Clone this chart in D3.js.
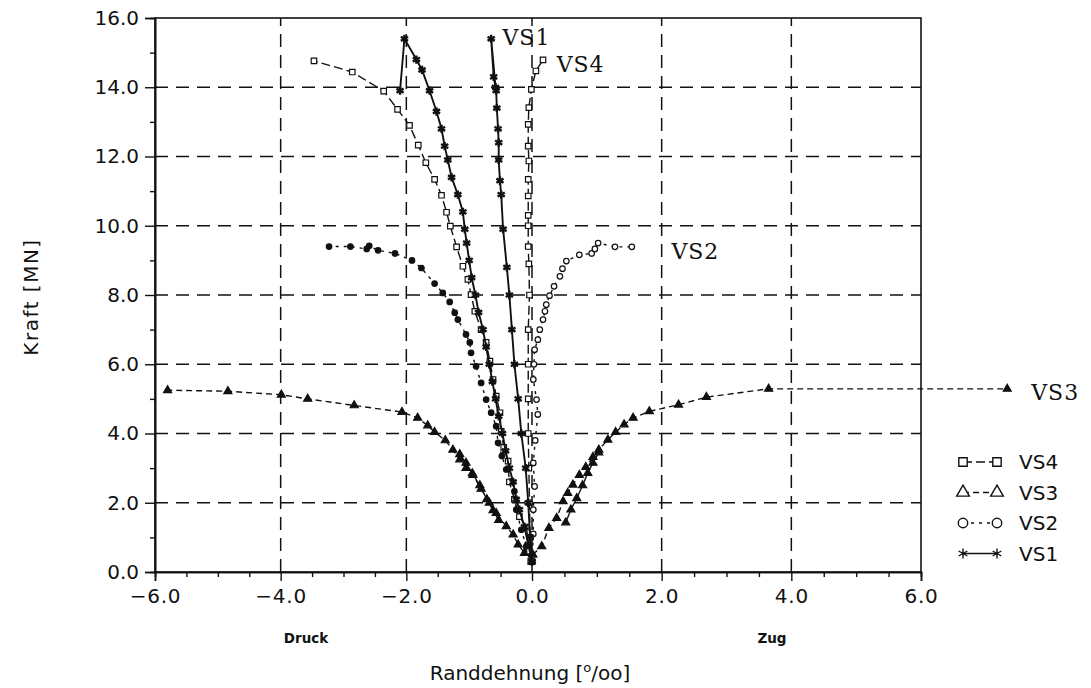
<!DOCTYPE html>
<html>
<head>
<meta charset="utf-8">
<script src="https://cdn.jsdelivr.net/npm/d3@7/dist/d3.min.js"></script>
<style>
  html, body { margin: 0; padding: 0; background: #fff; }
  svg { display: block; }
</style>
</head>
<body>
<svg id="chart" width="1091" height="688"></svg>
<script>
// ---------------- data (strain [o/oo], force [MN]) ----------------
const xTicks = [-6, -4, -2, 0, 2, 4, 6];
const yTicks = [0, 2, 4, 6, 8, 10, 12, 14, 16];
const xGrid = [-4, -2, 0, 2, 4];
const yGrid = [2, 4, 6, 8, 10, 12, 14];
const seriesNames = ["VS4", "VS3", "VS2", "VS1"];

// VS1 (asterisk, solid)
const vs1A = [[0,0.3],[-0.06,0.8],[-0.12,1.3],[-0.2,1.8],[-0.25,2.1],[-0.3,2.6],[-0.36,3.0],[-0.42,3.5],[-0.47,4.0],[-0.53,4.5],[-0.58,5.0],[-0.63,5.5],[-0.68,6.0],[-0.73,6.5],[-0.78,7.0],[-0.85,7.5],[-0.9,8.0],[-0.96,8.5],[-1.0,9.0],[-1.04,9.5],[-1.07,9.9],[-1.1,10.4],[-1.18,10.9],[-1.28,11.4],[-1.34,11.9],[-1.39,12.3],[-1.44,12.8],[-1.52,13.3],[-1.63,13.9],[-1.75,14.5],[-1.84,14.8],[-2.03,15.4],[-2.1,13.9]];
const vs1B = [[0,0.3],[-0.03,1.0],[-0.06,2.0],[-0.1,3.0],[-0.17,4.0],[-0.22,5.0],[-0.28,6.0],[-0.32,7.0],[-0.36,8.0],[-0.4,8.8],[-0.46,9.9],[-0.49,10.9],[-0.51,11.3],[-0.53,11.9],[-0.53,12.4],[-0.54,12.8],[-0.56,13.4],[-0.57,13.9],[-0.61,14.3],[-0.65,15.4],[-0.58,14.0]];

// VS2 (circles, short dashes)
const vs2Left = [[0,0.3],[-0.09,0.74],[-0.17,1.22],[-0.25,1.8],[-0.28,2.33],[-0.33,2.62],[-0.41,2.96],[-0.48,3.35],[-0.54,3.73],[-0.57,4.21],[-0.65,4.6],[-0.73,4.98],[-0.81,5.46],[-0.89,5.94],[-0.97,6.33],[-0.99,6.63],[-1.05,6.86],[-1.18,7.29],[-1.23,7.49],[-1.31,7.8],[-1.42,8.06],[-1.55,8.33],[-1.76,8.78],[-1.91,9.0],[-2.18,9.2],[-2.45,9.29],[-2.59,9.42],[-2.63,9.33],[-2.89,9.4],[-3.23,9.4]];
const vs2Right = [[0,0.3],[0.02,1.1],[0.02,1.8],[0.04,2.47],[0.02,3.15],[0.05,3.8],[0.09,4.55],[0.07,4.98],[0.02,5.56],[0.03,6.0],[0.04,6.42],[0.09,6.71],[0.12,7.0],[0.17,7.29],[0.2,7.53],[0.22,7.72],[0.27,7.98],[0.34,8.25],[0.43,8.54],[0.47,8.76],[0.53,8.98],[0.73,9.16],[0.92,9.2],[0.97,9.33],[1.02,9.5],[1.28,9.39],[1.54,9.39]];

// VS3 (triangles, dashed + solid reload branches)
const vs3Left = [[0.01,0.5],[-0.12,0.55],[-0.22,0.79],[-0.3,1.08],[-0.41,1.32],[-0.57,1.7],[-0.68,2.0],[-0.81,2.4],[-0.94,2.8],[-1.05,3.0],[-1.15,3.25],[-1.26,3.53],[-1.38,3.8],[-1.55,4.04],[-1.66,4.23],[-1.82,4.45],[-2.07,4.62],[-2.83,4.81],[-3.57,5.0],[-3.99,5.12],[-4.84,5.22],[-5.8,5.25]];
const vs3LeftB = [[-0.53,1.5],[-0.62,1.78],[-0.72,2.1],[-0.83,2.5],[-0.95,2.85],[-1.05,3.15],[-1.15,3.4]];
const vs3Right = [[0.01,0.5],[0.15,0.74],[0.26,1.27],[0.38,1.56],[0.48,2.04],[0.55,2.28],[0.63,2.52],[0.73,2.8],[0.83,3.03],[0.94,3.32],[1.03,3.53],[1.17,3.82],[1.29,4.04],[1.42,4.26],[1.56,4.45],[1.81,4.64],[2.26,4.83],[2.69,5.05],[3.65,5.29],[7.33,5.29]];
const vs3RightB = [[0.52,1.43],[0.6,1.8],[0.69,2.13],[0.78,2.5],[0.86,2.86],[0.94,3.15],[1.03,3.45]];

// VS4 (squares, long dashes)
const vs4Left = [[-0.02,0.3],[-0.04,0.6],[-0.09,1.3],[-0.2,1.6],[-0.28,2.1],[-0.36,2.6],[-0.38,3.2],[-0.45,3.6],[-0.49,4.06],[-0.51,4.6],[-0.57,5.08],[-0.62,5.56],[-0.67,6.09],[-0.73,6.63],[-0.81,7.0],[-0.91,7.53],[-0.97,8.01],[-1.02,8.45],[-1.1,8.83],[-1.2,9.39],[-1.3,9.99],[-1.36,10.39],[-1.44,10.88],[-1.55,11.34],[-1.69,11.82],[-1.81,12.33],[-1.95,12.9],[-2.14,13.36],[-2.36,13.89],[-2.86,14.44],[-3.47,14.76]];
const vs4Right = [[0,0.3],[-0.03,1.0],[-0.04,2.0],[-0.05,3.0],[-0.06,4.0],[-0.06,5.0],[-0.06,6.0],[-0.06,7.0],[-0.04,8.0],[-0.05,8.9],[-0.06,9.4],[-0.06,10.0],[-0.06,10.3],[-0.06,10.86],[-0.06,11.34],[-0.05,11.87],[-0.06,12.3],[-0.06,12.93],[-0.05,13.41],[-0.01,13.94],[0.06,14.47],[0.17,14.79]];

// curve labels
const curveLabels = [
  {text: "VS1", x: -0.47, y: 15.45},
  {text: "VS4", x: 0.38, y: 14.65},
  {text: "VS2", x: 2.15, y: 9.25},
  {text: "VS3", x: 7.7, y: 5.2}
];

// ---------------- drawing ----------------
const svg = d3.select("#chart");
const FONT = "'DejaVu Sans', sans-serif";

const x = d3.scaleLinear().domain([-6, 0, 6]).range([155, 532, 921]);
const y = d3.scaleLinear().domain([0, 16]).range([572, 18]);

// grid
const g = svg.append("g").attr("stroke", "#111").attr("stroke-width", 1.5).attr("fill", "none");
g.selectAll("line.gx").data(xGrid).join("line")
  .attr("x1", d => x(d)).attr("x2", d => x(d))
  .attr("y1", y(0)).attr("y2", y(16))
  .attr("stroke-dasharray", "13,8");
g.selectAll("line.gy").data(yGrid).join("line")
  .attr("x1", x(-6)).attr("x2", x(6))
  .attr("y1", d => y(d)).attr("y2", d => y(d))
  .attr("stroke-dasharray", "13,8");

// frame
svg.append("rect")
  .attr("x", x(-6)).attr("y", y(16))
  .attr("width", x(6) - x(-6)).attr("height", y(0) - y(16))
  .attr("fill", "none").attr("stroke", "#111").attr("stroke-width", 1.6);

// axes
const yAxis = svg.append("g").attr("transform", `translate(${x(-6)},0)`)
  .call(d3.axisLeft(y).tickValues(yTicks).tickFormat(d3.format(".1f")).tickSize(10).tickPadding(6));
const yMinor = svg.append("g").attr("transform", `translate(${x(-6)},0)`)
  .call(d3.axisLeft(y).tickValues(d3.range(1, 16, 2)).tickFormat("").tickSize(5));
const xAxis = svg.append("g").attr("transform", `translate(0,${y(0)})`)
  .call(d3.axisBottom(x).tickValues(xTicks).tickFormat(d3.format(".1f")).tickSize(9).tickPadding(8));
const xMinor = svg.append("g").attr("transform", `translate(0,${y(0)})`)
  .call(d3.axisBottom(x).tickValues(d3.range(-5.5, 6, 0.5).filter(v => Math.abs(v % 2) > 1e-9)).tickFormat("").tickSize(5));
[yAxis, yMinor, xAxis, xMinor].forEach(a => {
  a.select(".domain").attr("stroke", "#111").attr("stroke-width", 1.6);
  a.selectAll(".tick line").attr("stroke", "#111").attr("stroke-width", 1.4);
  a.selectAll("text").attr("font-family", FONT).attr("font-size", 20).attr("fill", "#111");
});
xAxis.selectAll("text").attr("letter-spacing", 0.8);

// axis titles
svg.append("text").attr("x", 306).attr("y", 643).attr("text-anchor", "middle")
  .attr("font-family", FONT).attr("font-weight", "bold").attr("font-size", 13.5).attr("fill", "#111").text("Druck");
svg.append("text").attr("x", 772).attr("y", 643).attr("text-anchor", "middle")
  .attr("font-family", FONT).attr("font-weight", "bold").attr("font-size", 13.5).attr("fill", "#111").text("Zug");
const xt = svg.append("text").attr("x", 530).attr("y", 680).attr("text-anchor", "middle")
  .attr("font-family", FONT).attr("font-size", 20).attr("fill", "#111");
xt.append("tspan").text("Randdehnung [");
xt.append("tspan").attr("font-size", 13).attr("dy", -8).text("o");
xt.append("tspan").attr("dy", 8).text("/oo]");
svg.append("text").attr("transform", "translate(38,297) rotate(-90)").attr("text-anchor", "middle")
  .attr("font-family", FONT).attr("font-size", 20).attr("letter-spacing", 1.5).attr("fill", "#111").text("Kraft [MN]");

// series
const line = d3.line().x(d => x(d[0])).y(d => y(d[1]));
const sym = {
  square: d3.symbol().type(d3.symbolSquare).size(30),
  triangle: d3.symbol().type(d3.symbolTriangle).size(28),
  circle: d3.symbol().type(d3.symbolCircle).size(24),
  asterisk: d3.symbol().type(d3.symbolAsterisk).size(48)
};
const curves = [
  {data: vs3Left, dash: "6,4", sym: "triangle", fill: "#111", w: 1.4},
  {data: vs3LeftB, dash: null, sym: "triangle", fill: "#111", w: 1.4},
  {data: vs3Right, dash: "6,4", sym: "triangle", fill: "#111", w: 1.4},
  {data: vs3RightB, dash: null, sym: "triangle", fill: "#111", w: 1.4},
  {data: vs2Left, dash: "3,5", sym: "circle", fill: "#111", w: 1.4},
  {data: vs2Right, dash: "3,5", sym: "circle", fill: "#fff", w: 1.4},
  {data: vs4Left, dash: "9,4", sym: "square", fill: "#fff", w: 1.4},
  {data: vs4Right, dash: "9,4", sym: "square", fill: "#fff", w: 1.4},
  {data: vs1A, dash: null, sym: "asterisk", fill: "#111", w: 1.9},
  {data: vs1B, dash: null, sym: "asterisk", fill: "#111", w: 1.9}
];
const sg = svg.append("g");
curves.forEach(c => {
  sg.append("path").datum(c.data).attr("d", line)
    .attr("fill", "none").attr("stroke", "#111").attr("stroke-width", c.w)
    .attr("stroke-dasharray", c.dash);
  sg.append("g").selectAll("path").data(c.data).join("path")
    .attr("transform", d => `translate(${x(d[0])},${y(d[1])})`)
    .attr("d", sym[c.sym])
    .attr("fill", c.sym === "asterisk" ? "none" : c.fill)
    .attr("stroke", "#111").attr("stroke-width", c.sym === "asterisk" ? 2.4 : 1.2);
});

// curve labels
svg.append("g").selectAll("text").data(curveLabels).join("text")
  .attr("x", d => x(d.x)).attr("y", d => y(d.y))
  .attr("font-family", "'DejaVu Serif', serif").attr("font-size", 22).attr("letter-spacing", 1)
  .attr("fill", "#111").attr("dy", "0.35em").text(d => d.text);

// legend
const legendStyle = {
  VS4: {sym: "square", dash: "9,4", fill: "#fff"},
  VS3: {sym: "triangle", dash: "6,4", fill: "#fff"},
  VS2: {sym: "circle", dash: "3,5", fill: "#fff"},
  VS1: {sym: "asterisk", dash: null, fill: "none"}
};
const symTypes = {square: d3.symbolSquare, triangle: d3.symbolTriangle, circle: d3.symbolCircle, asterisk: d3.symbolAsterisk};
const lg = svg.append("g").attr("transform", "translate(963,462)");
const rows = lg.selectAll("g").data(seriesNames).join("g")
  .attr("transform", (d, i) => `translate(0,${i * 30.5})`);
rows.append("line").attr("x1", 0).attr("x2", 34).attr("y1", 0).attr("y2", 0)
  .attr("stroke", "#111").attr("stroke-width", 1.3)
  .attr("stroke-dasharray", d => legendStyle[d].dash);
[0, 34].forEach(px => {
  rows.append("path").attr("transform", `translate(${px},0)`)
    .attr("d", d => d3.symbol().type(symTypes[legendStyle[d].sym]).size(70)())
    .attr("fill", d => legendStyle[d].fill).attr("stroke", "#111").attr("stroke-width", 1.4);
});
rows.append("text").attr("x", 56).attr("dy", "0.36em")
  .attr("font-family", FONT).attr("font-size", 20).attr("fill", "#111").text(d => d);
</script>
</body>
</html>
